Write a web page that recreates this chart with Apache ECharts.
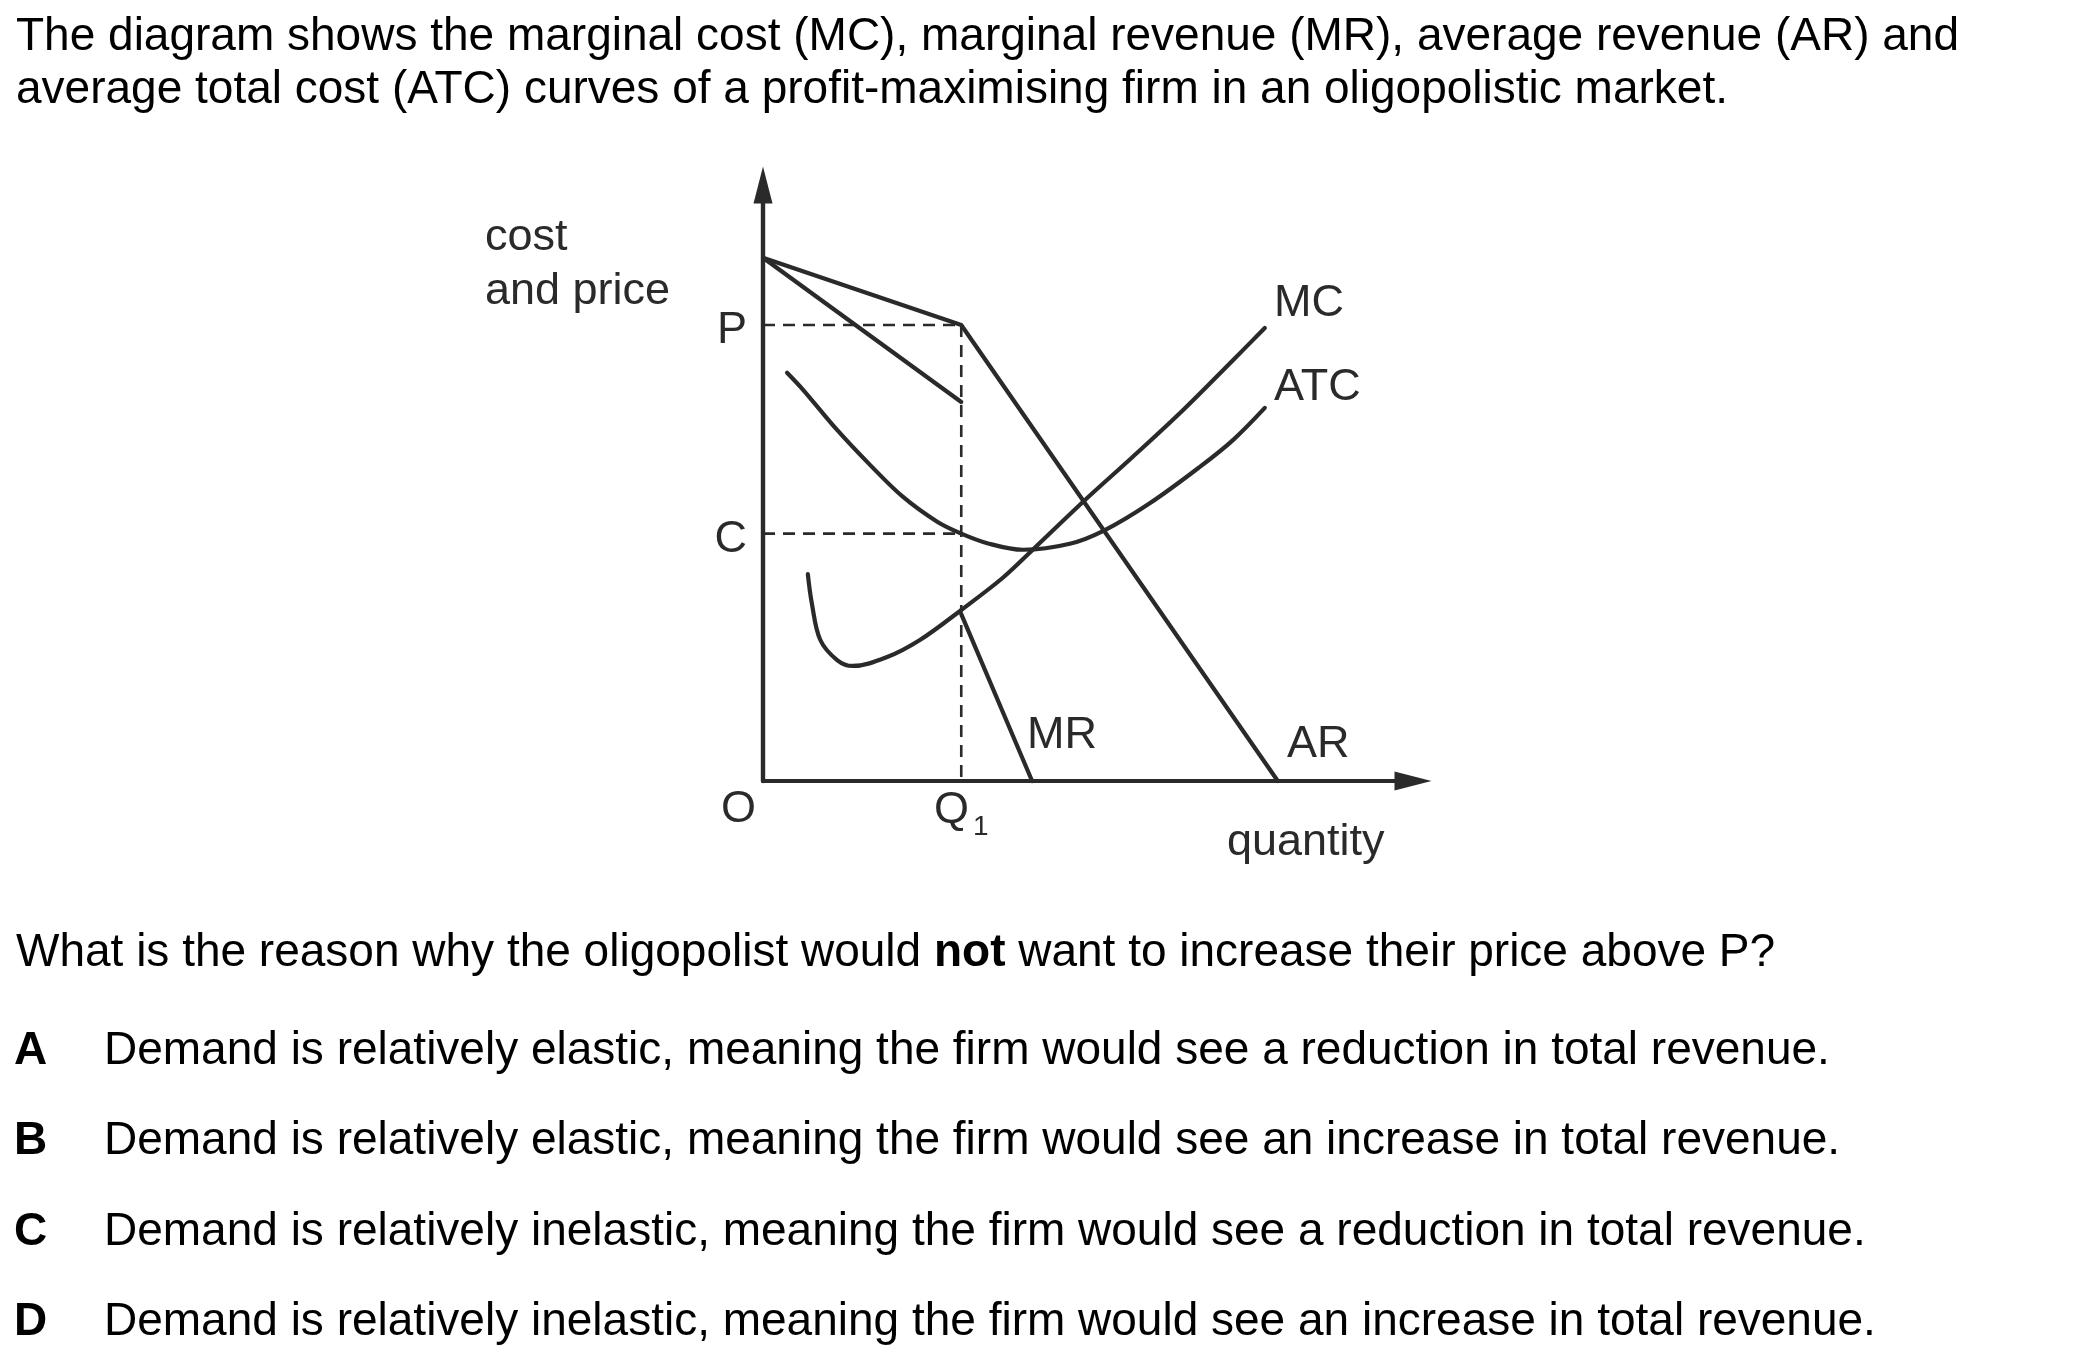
<!DOCTYPE html>
<html>
<head>
<meta charset="utf-8">
<script src="https://cdn.jsdelivr.net/npm/echarts@6/dist/echarts.min.js"></script>
<style>
html,body{margin:0;padding:0;background:#ffffff;}
#chart{width:2100px;height:1356px;}
</style>
</head>
<body>
<div id="chart"></div>
<script>
// ---------- text ----------
const introLines = [
  'The diagram shows the marginal cost (MC), marginal revenue (MR), average revenue (AR) and',
  'average total cost (ATC) curves of a profit-maximising firm in an oligopolistic market.'
];
const questionParts = ['What is the reason why the oligopolist would ', 'not', ' want to increase their price above P?'];
const optionLetters = ['A', 'B', 'C', 'D'];
const optionTexts = [
  'Demand is relatively elastic, meaning the firm would see a reduction in total revenue.',
  'Demand is relatively elastic, meaning the firm would see an increase in total revenue.',
  'Demand is relatively inelastic, meaning the firm would see a reduction in total revenue.',
  'Demand is relatively inelastic, meaning the firm would see an increase in total revenue.'
];
const yAxisTitle = ['cost', 'and price'];
const xAxisTitle = 'quantity';
const originLabel = 'O';
const curveNames = ['MC', 'ATC', 'AR', 'MR'];

// ---------- key values (abstract units) ----------
const priceP = 76.5;
const costC = 41.5;
const quantityQ1 = 30.5;

// ---------- curves [quantity, cost/price] ----------
const arCurve = [[0, 87.8], [30.5, 76.5], [79.2, 0]];
const mrUpper = [[0, 87.8], [30.5, 63.6]];
const mrLower = [[30.5, 28.0], [41.4, 0]];
const mcCurve = [
  [6.9, 34.7], [7.5, 29.9], [8.8, 23.7], [11.4, 20.3], [13.8, 19.3], [19.1, 20.8],
  [24.2, 23.7], [30.5, 28.7], [36.9, 34.1], [41.5, 38.8], [49.5, 47.1], [56.9, 54.4],
  [64.6, 62.2], [72.3, 70.6], [77.2, 76.0]
];
const atcCurve = [
  [3.7, 68.5], [6.2, 65.6], [11.4, 58.9], [16.5, 53.0], [21.5, 47.7], [26.8, 43.5],
  [30.5, 41.5], [34.5, 39.9], [40.0, 38.8], [47.2, 39.8], [52.6, 42.1], [59.5, 46.6],
  [67.2, 52.7], [72.3, 57.2], [77.2, 62.6]
];

// ---------- rendering ----------
const FONT = '"Liberation Sans", Arial, Helvetica, sans-serif';
const INK = '#2a2a2a';
const chart = echarts.init(document.getElementById('chart'), null, {renderer: 'canvas'});

const lineSeries = (name, data, smooth, extra) => Object.assign({
  name: name, type: 'line', data: data, symbol: 'none', smooth: smooth, clip: false,
  silent: true, animation: false,
  lineStyle: {color: INK, width: 4.2, cap: 'round', join: 'round'}
}, extra || {});

const dashStyle = {color: INK, width: 2.6, type: [12, 8]};

const graphics = [];
introLines.forEach((t, i) => graphics.push({
  type: 'text', left: 16, top: 14 + i * 53,
  style: {text: t, font: '46px ' + FONT, fill: '#000'}
}));
graphics.push({
  type: 'text', left: 16, top: 930,
  style: {
    text: '{r|' + questionParts[0] + '}{b|' + questionParts[1] + '}{r|' + questionParts[2] + '}',
    rich: {
      r: {fontFamily: FONT, fontSize: 46, fill: '#000', fontWeight: 'normal'},
      b: {fontFamily: FONT, fontSize: 46, fill: '#000', fontWeight: 'bold'}
    }
  }
});
optionLetters.forEach((l, i) => {
  graphics.push({type: 'text', left: 14, top: 1028 + i * 90.5,
    style: {text: l, font: 'bold 46px ' + FONT, fill: '#000'}});
  graphics.push({type: 'text', left: 104, top: 1028 + i * 90.5,
    style: {text: optionTexts[i], font: '46px ' + FONT, fill: '#000'}});
});
// chart annotations
const annot = (text, x, y) => ({type: 'text', x: x, y: y,
  style: {text: text, font: '45px ' + FONT, fill: INK, align: 'left', verticalAlign: 'middle'}});
graphics.push(annot(yAxisTitle[0], 485, 238));
graphics.push(annot(yAxisTitle[1], 485, 292));
graphics.push(annot(curveNames[0], 1274, 304));
graphics.push(annot(curveNames[1], 1274, 388));
graphics.push(annot(curveNames[2], 1287, 745));
graphics.push(annot(curveNames[3], 1027, 736));
graphics.push(annot(xAxisTitle, 1227, 843));
graphics.push(annot(originLabel, 721, 810));

chart.setOption({
  animation: false,
  backgroundColor: '#ffffff',
  grid: {left: 763, top: 185, width: 650, height: 596, containLabel: false},
  xAxis: {
    type: 'value', min: 0, max: 100,
    axisLine: {show: true, onZero: false, symbol: ['none', 'triangle'], symbolSize: [19, 37],
      lineStyle: {color: INK, width: 4.2}},
    axisTick: {show: false},
    splitLine: {show: false},
    axisLabel: {
      show: true, customValues: [quantityQ1], margin: 7,
      formatter: () => '{q|Q}{s|1}',
      rich: {
        q: {fontFamily: FONT, fontSize: 45, color: INK, lineHeight: 46, verticalAlign: 'top'},
        s: {fontFamily: FONT, fontSize: 28, color: INK, lineHeight: 30, verticalAlign: 'top', padding: [25, 0, 0, 4]}
      }
    }
  },
  yAxis: {
    type: 'value', min: 0, max: 100,
    axisLine: {show: true, onZero: false, symbol: ['none', 'triangle'], symbolSize: [19, 37],
      lineStyle: {color: INK, width: 4.4}},
    axisTick: {show: false},
    splitLine: {show: false},
    axisLabel: {
      show: true, customValues: [costC, priceP], margin: 16,
      fontFamily: FONT, fontSize: 45, color: INK, verticalAlign: 'top', lineHeight: 12,
      formatter: (v) => (Math.abs(v - priceP) < 0.01 ? 'P' : 'C')
    }
  },
  graphic: graphics,
  series: [
    lineSeries('P level', [[0, priceP], [quantityQ1, priceP]], false, {lineStyle: dashStyle, z: 1}),
    lineSeries('C level', [[0, costC], [quantityQ1, costC]], false, {lineStyle: dashStyle, z: 1}),
    lineSeries('Q1 level', [[quantityQ1, priceP], [quantityQ1, 0]], false, {lineStyle: dashStyle, z: 1}),
    lineSeries('AR', arCurve, false),
    lineSeries('MR upper', mrUpper, false),
    lineSeries('MR lower', mrLower, false),
    lineSeries('MC', mcCurve, 0.35),
    lineSeries('ATC', atcCurve, 0.35)
  ]
});
</script>
</body>
</html>
